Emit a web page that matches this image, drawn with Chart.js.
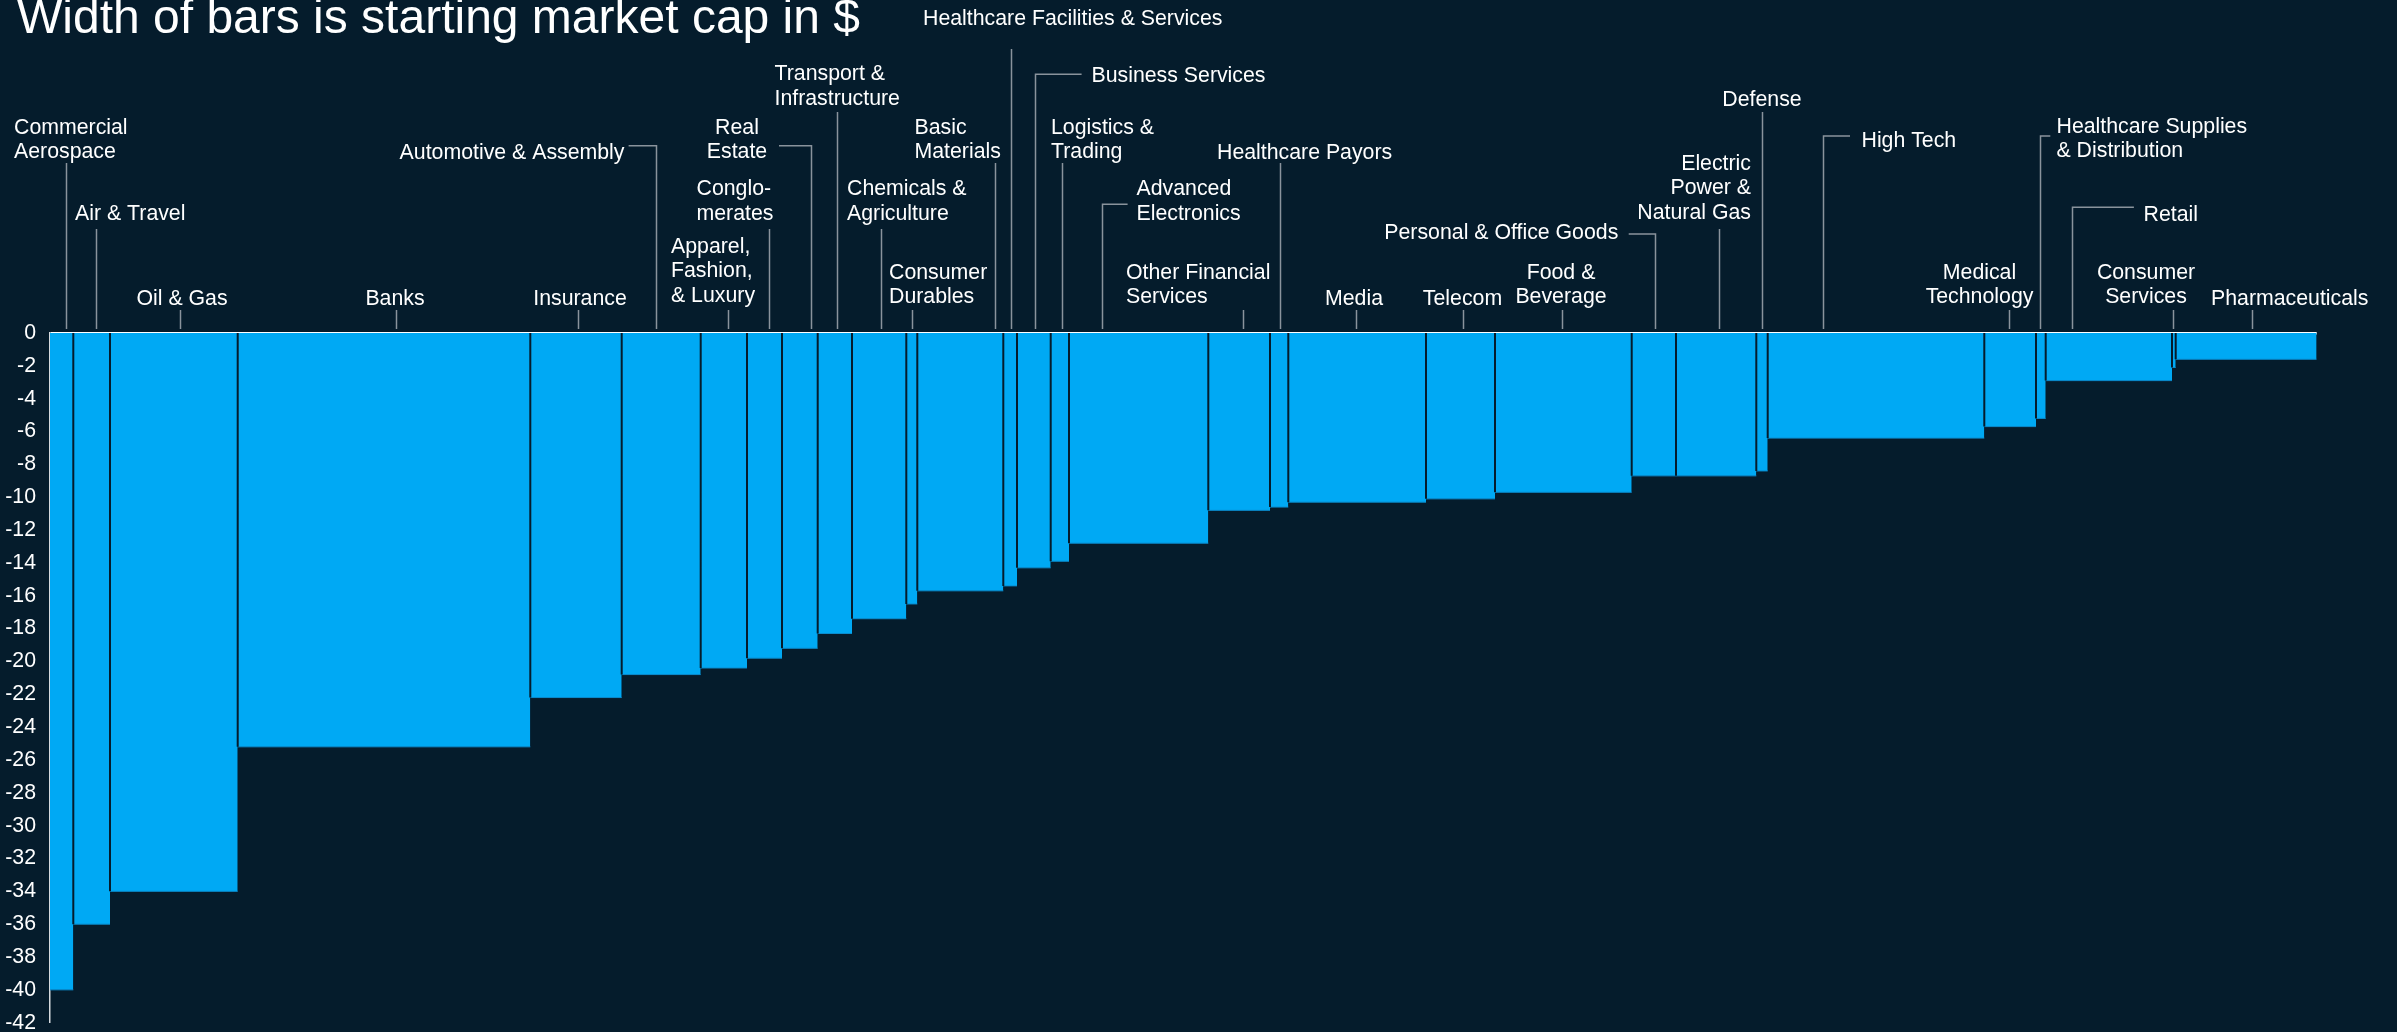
<!DOCTYPE html>
<html>
<head>
<meta charset="utf-8">
<title>Width of bars is starting market cap in $</title>
<script src="https://cdn.jsdelivr.net/npm/chart.js@4.4.1/dist/chart.umd.min.js"></script>
<style>
  html, body { margin: 0; padding: 0; background: #051c2c; }
  canvas { display: block; }
</style>
</head>
<body>
<canvas id="chart" width="2397" height="1032"></canvas>
<script>
const title = 'Width of bars is starting market cap in $';

// Sectors, left to right ("\n" = where the label wraps)
const sectors = [
  'Commercial\nAerospace', 'Air & Travel', 'Oil & Gas', 'Banks', 'Insurance',
  'Automotive & Assembly', 'Apparel,\nFashion,\n& Luxury', 'Conglo-\nmerates', 'Real\nEstate',
  'Transport &\nInfrastructure', 'Chemicals &\nAgriculture', 'Consumer\nDurables', 'Basic\nMaterials',
  'Healthcare Facilities & Services', 'Business Services', 'Logistics &\nTrading',
  'Advanced\nElectronics', 'Other Financial\nServices', 'Healthcare Payors', 'Media', 'Telecom',
  'Food &\nBeverage', 'Personal & Office Goods', 'Electric\nPower &\nNatural Gas', 'Defense',
  'High Tech', 'Medical\nTechnology', 'Healthcare Supplies\n& Distribution', 'Retail',
  'Consumer\nServices', 'Pharmaceuticals'
];

// Bar width = starting market cap (relative units)
const startCap = [
  23.3, 36.7, 127.7, 292.6, 91.4, 79.0, 46.3, 35.0, 35.7, 34.3, 54.3, 11.0, 86.0, 13.7, 33.7, 18.3,
  139.3, 61.7, 18.3, 137.7, 69.0, 136.7, 44.3, 80.3, 11.4, 216.6, 51.7, 9.7, 126.3, 3.7, 141.0
];

// Bar height = change in value
const change = [
  -40.0, -36.0, -34.0, -25.2, -22.2, -20.8, -20.4, -19.8, -19.2, -18.3, -17.4, -16.5, -15.7, -15.4, -14.3, -13.9,
  -12.8, -10.8, -10.6, -10.3, -10.1, -9.7, -8.7, -8.7, -8.4, -6.4, -5.7, -5.2, -2.9, -2.1, -1.6
];

// y axis ticks
const yMin = -42;
const yMax = 0;
const yStep = 2;

// cumulative left edge of every bar
const edges = [0];
startCap.forEach((w, i) => edges.push(edges[i] + w));

// label placement: text anchor (px), first baseline, alignment,
// where the leader meets the bar (share of its width), top of the leader,
// and the x the horizontal run starts from for elbow leaders
const labelLayout = [
  { x: 14, y: 133.5, align: 'left', at: 0.69, top: 163 },
  { x: 75, y: 219.5, align: 'left', at: 0.63, top: 229 },
  { x: 182, y: 304.5, align: 'center', at: 0.55, top: 310 },
  { x: 395, y: 304.5, align: 'center', at: 0.54, top: 310 },
  { x: 580, y: 304.5, align: 'center', at: 0.525, top: 310 },
  { x: 624.5, y: 159.3, align: 'right', at: 0.43, top: 145.7, elbow: 628.6 },
  { x: 671, y: 252.6, align: 'left', at: 0.6, top: 310 },
  { x: 696.5, y: 195.3, align: 'left', at: 0.62, top: 229 },
  { x: 737, y: 133.6, align: 'center', at: 0.8, top: 145.7, elbow: 779 },
  { x: 774.5, y: 80.3, align: 'left', at: 0.55, top: 112 },
  { x: 847, y: 195.3, align: 'left', at: 0.53, top: 229 },
  { x: 889, y: 278.6, align: 'left', at: 0.52, top: 310 },
  { x: 914.5, y: 133.6, align: 'left', at: 0.9, top: 163 },
  { x: 923, y: 25.3, align: 'left', at: 0.54, top: 49 },
  { x: 1091.5, y: 82, align: 'left', at: 0.53, top: 74.3, elbow: 1081.6 },
  { x: 1051, y: 133.6, align: 'left', at: 0.62, top: 163 },
  { x: 1136.5, y: 195.3, align: 'left', at: 0.235, top: 204.3, elbow: 1127.6 },
  { x: 1126, y: 278.6, align: 'left', at: 0.57, top: 310 },
  { x: 1217, y: 159.3, align: 'left', at: 0.56, top: 163 },
  { x: 1354, y: 304.5, align: 'center', at: 0.49, top: 310 },
  { x: 1462.5, y: 304.5, align: 'center', at: 0.53, top: 310 },
  { x: 1561, y: 278.6, align: 'center', at: 0.49, top: 310 },
  { x: 1618.3, y: 239.3, align: 'right', at: 0.53, top: 234, elbow: 1628.7 },
  { x: 1751, y: 169.6, align: 'right', at: 0.535, top: 229 },
  { x: 1762, y: 106, align: 'center', at: 0.47, top: 112 },
  { x: 1861.5, y: 147, align: 'left', at: 0.257, top: 136, elbow: 1850 },
  { x: 1979.5, y: 278.6, align: 'center', at: 0.48, top: 310 },
  { x: 2056.5, y: 132.6, align: 'left', at: 0.45, top: 136, elbow: 2050.3 },
  { x: 2143.5, y: 221, align: 'left', at: 0.21, top: 207.3, elbow: 2133.9 },
  { x: 2146, y: 278.6, align: 'center', at: 0.35, top: 310 },
  { x: 2289.7, y: 304.5, align: 'center', at: 0.54, top: 310 }
];

const FONT = '"Liberation Sans", Arial, Helvetica, sans-serif';
const NAVY = '#051c2c';
const CYAN = '#00a9f4';

// thin dark rules between neighbouring bars
const barSeparators = {
  id: 'barSeparators',
  afterDatasetsDraw(chart) {
    const { ctx, scales: { x, y } } = chart;
    const zero = y.getPixelForValue(0);
    ctx.save();
    ctx.strokeStyle = NAVY;
    ctx.lineWidth = 2;
    ctx.beginPath();
    for (let i = 1; i < sectors.length; i++) {
      const px = x.getPixelForValue(edges[i]);
      ctx.moveTo(px, zero);
      ctx.lineTo(px, y.getPixelForValue(Math.max(change[i - 1], change[i])));
    }
    ctx.stroke();
    ctx.restore();
  }
};

// title, sector names and leader lines
const sectorLabels = {
  id: 'sectorLabels',
  afterDraw(chart) {
    const { ctx, scales: { x } } = chart;
    ctx.save();
    ctx.fillStyle = '#ffffff';
    ctx.textBaseline = 'alphabetic';
    ctx.textAlign = 'left';
    ctx.font = '48px ' + FONT;
    ctx.fillText(title, 17, 32.5);

    ctx.font = '21.3px ' + FONT;
    ctx.strokeStyle = '#8a939c';
    ctx.lineWidth = 1.5;
    const leaderEnd = 329;
    sectors.forEach((name, i) => {
      const lay = labelLayout[i];
      ctx.textAlign = lay.align;
      name.split('\n').forEach((line, k) => ctx.fillText(line, lay.x, lay.y + k * 24.5));

      const lx = Math.round(x.getPixelForValue(edges[i] + startCap[i] * lay.at)) + 0.5;
      ctx.beginPath();
      if (lay.elbow !== undefined) {
        ctx.moveTo(lay.elbow, lay.top);
        ctx.lineTo(lx, lay.top);
      } else {
        ctx.moveTo(lx, lay.top);
      }
      ctx.lineTo(lx, leaderEnd);
      ctx.stroke();
    });
    ctx.restore();
  }
};

const datasets = sectors.map((name, i) => ({
  label: name.replace(/\n/g, ' '),
  data: [
    { x: edges[i], y: change[i] },
    { x: edges[i + 1], y: change[i] }
  ],
  fill: 'origin',
  backgroundColor: CYAN,
  borderColor: '#0a8cce',
  borderWidth: 1,
  pointRadius: 0,
  tension: 0
}));

new Chart(document.getElementById('chart'), {
  type: 'line',
  data: { datasets },
  options: {
    responsive: false,
    animation: false,
    devicePixelRatio: 1,
    layout: { padding: { top: 333, bottom: 9.3, left: 0, right: 80.3 } },
    plugins: {
      legend: { display: false },
      tooltip: { enabled: false }
    },
    scales: {
      x: {
        type: 'linear',
        display: false,
        min: 0,
        max: edges[edges.length - 1]
      },
      y: {
        min: yMin,
        max: yMax,
        z: 1,
        afterFit(scale) {
          scale.width = 50;
          scale.paddingTop = 0;
          scale.paddingBottom = 0;
        },
        ticks: {
          stepSize: yStep,
          color: '#ffffff',
          padding: 14,
          font: { family: FONT, size: 21.3 }
        },
        grid: {
          drawTicks: false,
          color: ctx => (ctx.tick && ctx.tick.value === 0 ? '#ffffff' : 'rgba(0,0,0,0)'),
          lineWidth: ctx => (ctx.tick && ctx.tick.value === 0 ? 2.5 : 0)
        },
        border: { color: '#d5d9dd', width: 1.5 }
      }
    }
  },
  plugins: [barSeparators, sectorLabels]
});
</script>
</body>
</html>
